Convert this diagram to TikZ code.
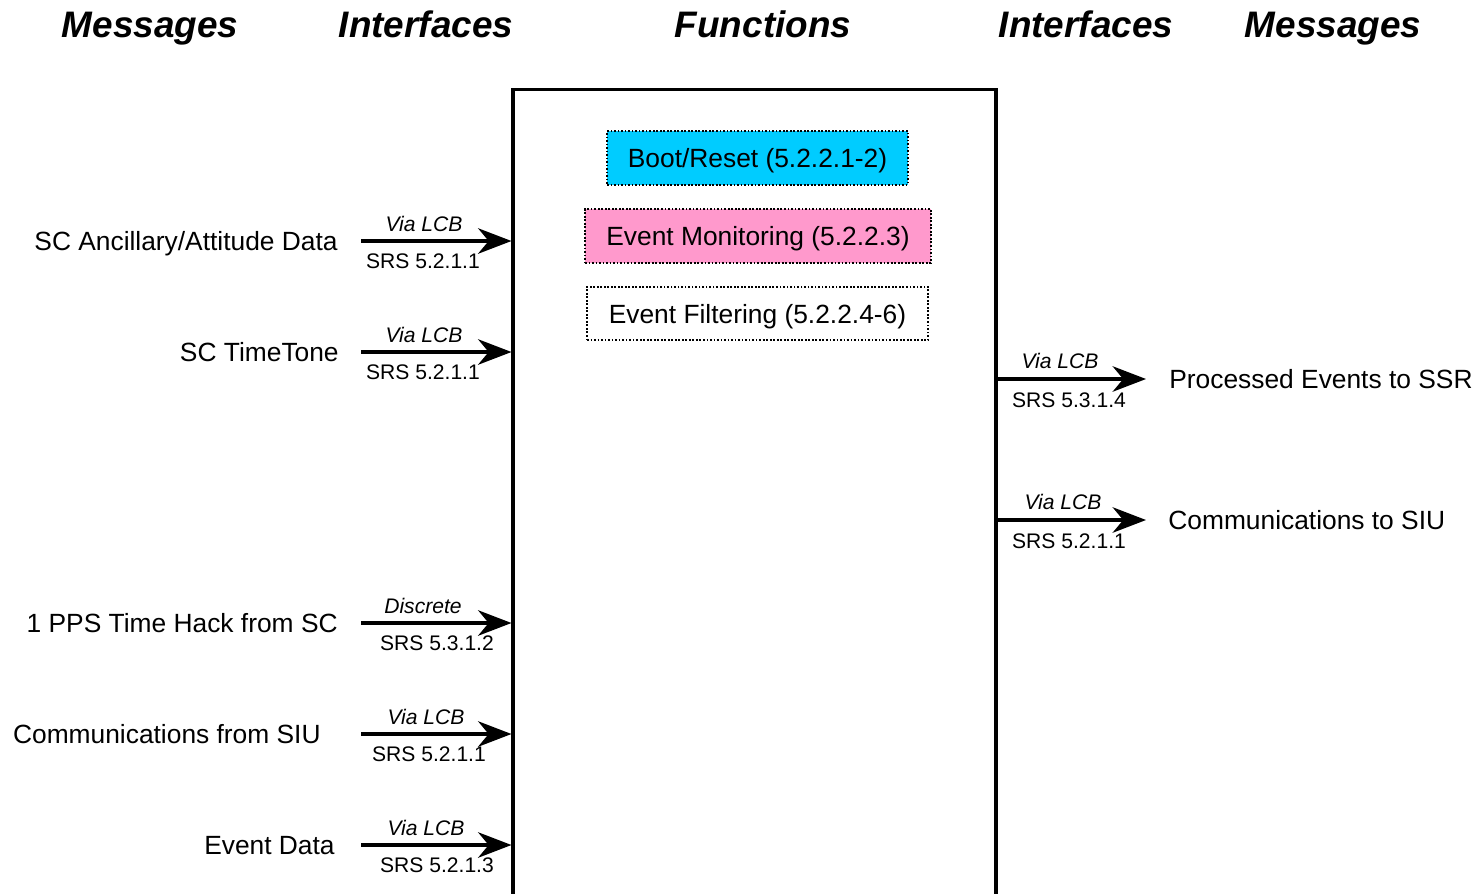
\documentclass[tikz,border=0pt]{standalone}
\usepackage{fontspec}
\setmainfont{Liberation Sans}
\usetikzlibrary{arrows.meta}
\definecolor{bootblue}{HTML}{00CCFF}
\definecolor{monpink}{HTML}{FF99CC}
\newcommand{\tail}{361}
\newcommand{\head}{1146}
% incoming link: name, y, msg x, message, top x, top text, bottom x, bottom text
\newcommand{\inlink}[8]{
	\coordinate (#1) at (\tail,#2);
	\draw [link] (#1) -- (#1 -| core.west);
	\node [msg, anchor=base east] (#1msg) at (#3,#2+9.5) {#4};
	\node [tag, anchor=base] (#1top) at (#5,#2-9.5) {\textit{#6}};
	\node [tag, anchor=base] (#1bot) at (#7,#2+27.5) {#8};
	}
% outgoing link: name, y, msg x, message, top x, top text, bottom x, bottom text
\newcommand{\outlink}[8]{
	\coordinate (#1) at (\head,#2);
	\draw [link] (#1 -| core.east) -- (#1);
	\node [msg, anchor=base west] (#1msg) at (#3,#2+9.5) {#4};
	\node [tag, anchor=base] (#1top) at (#5,#2-11) {\textit{#6}};
	\node [tag, anchor=base] (#1bot) at (#7,#2+28.5) {#8};
	}

\begin{document}
\begin{tikzpicture}[
      x=0.02cm, y=-0.02cm, %one unit per pixel
      link/.style={line width=1.8pt,-{Stealth[length=19pt,width=14.5pt,inset=6pt]}},
      msg/.style={font=\fontsize{15}{18}\selectfont, inner sep=0pt},
      tag/.style={font=\fontsize{12}{14}\selectfont, inner sep=0pt},
      head/.style={font=\fontsize{21}{25}\selectfont\bfseries\itshape, inner sep=0pt, anchor=base},
      func/.style={draw, densely dotted, line width=1pt, font=\fontsize{15}{18}\selectfont, text depth=0pt, minimum height=1.07cm},
      core/.style={draw, line width=1.8pt, minimum width=9.66cm, minimum height=16.62cm}
    ]
    \useasboundingbox (0,0) rectangle (1479,893);
    %column headings
    \node[head] (hmsgl) at (150,37) {Messages};
    \node[head] (hintl) at (426,37) {Interfaces};
    \node[head] (hfun) at (763,37) {Functions};
    \node[head] (hintr) at (1086,37) {Interfaces};
    \node[head] (hmsgr) at (1333,37) {Messages};
    % the functions block
    \node[core] (core) at (754.5,504.5) {};
    \node[func, fill=bootblue, minimum width=6.02cm] (boot) at (757.5,158) {Boot/Reset (5.2.2.1-2)};
    \node[func, fill=monpink, minimum width=6.92cm] (mon) at (758,236) {Event Monitoring (5.2.2.3)};
    \node[func, minimum width=6.82cm] (filt) at (757.5,313.5) {Event Filtering (5.2.2.4-6)};
    % incoming messages
    \inlink{anc}{241}{338}{SC Ancillary/Attitude Data}{424}{Via LCB}{423}{SRS 5.2.1.1};
    \inlink{tone}{352}{339}{SC TimeTone}{424}{Via LCB}{423}{SRS 5.2.1.1};
    \inlink{pps}{623}{338}{1 PPS Time Hack from SC}{423}{Discrete}{437}{SRS 5.3.1.2};
    \inlink{siuin}{734}{321}{Communications from SIU}{426}{Via LCB}{429}{SRS 5.2.1.1};
    \inlink{evt}{845}{335}{Event Data}{426}{Via LCB}{437}{SRS 5.2.1.3};
    % outgoing messages
    \outlink{ssr}{379}{1169}{Processed Events to SSR}{1060}{Via LCB}{1069}{SRS 5.3.1.4};
    \outlink{siuout}{520}{1168}{Communications to SIU}{1063}{Via LCB}{1069}{SRS 5.2.1.1};
    \end{tikzpicture}
\end{document}
